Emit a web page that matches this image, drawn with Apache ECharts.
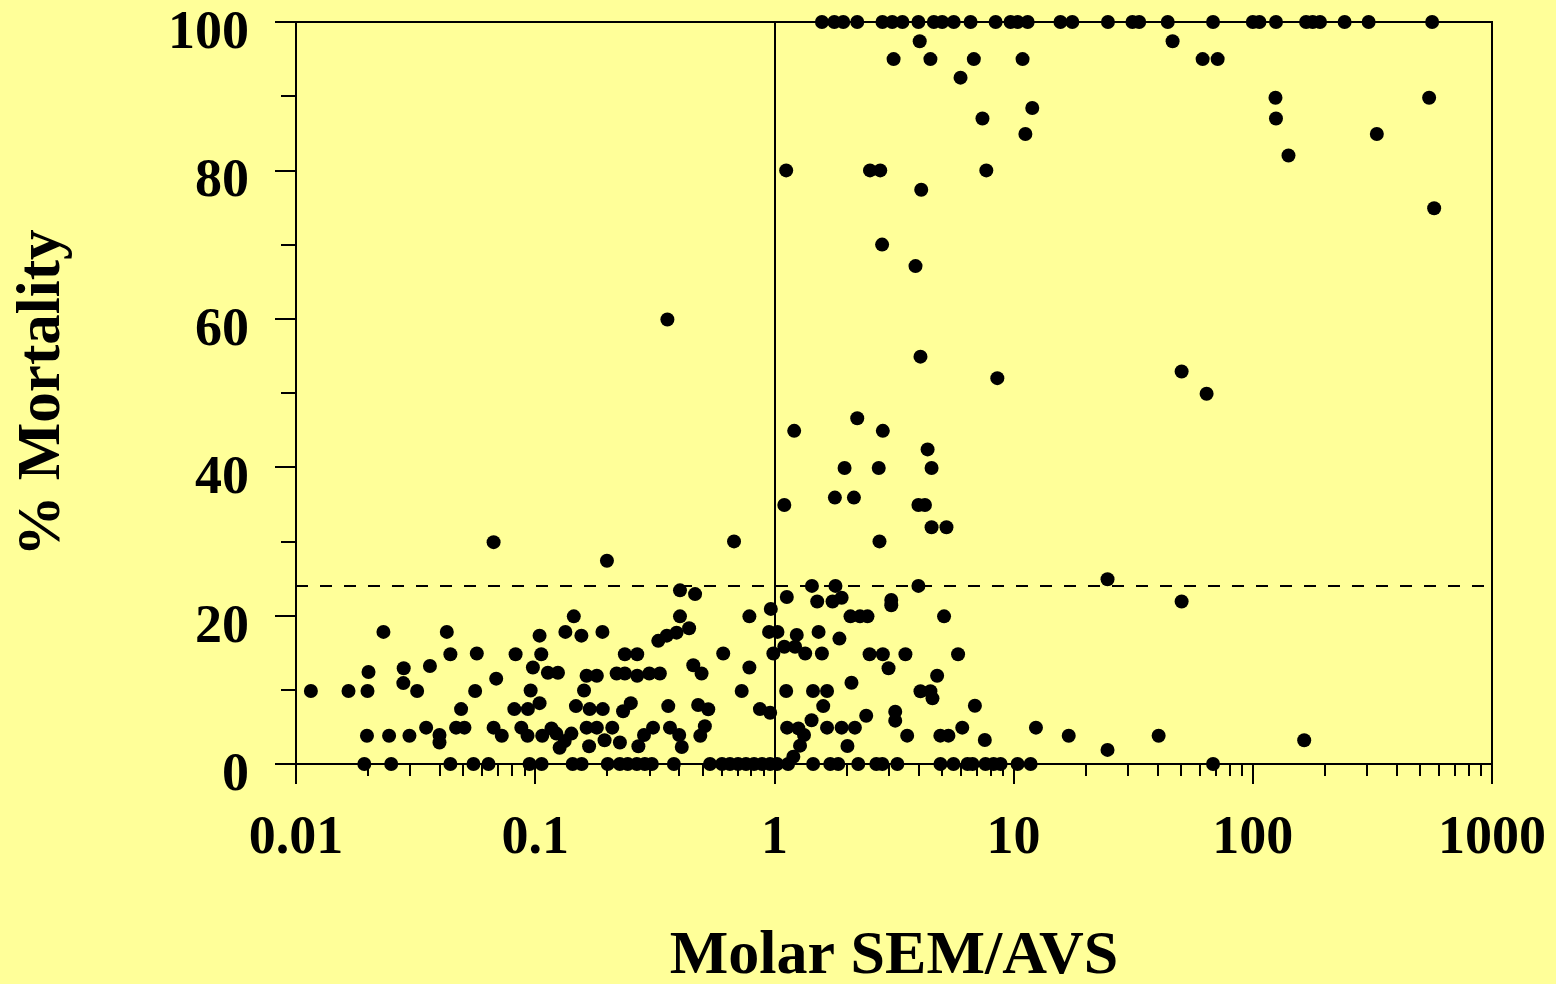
<!DOCTYPE html>
<html>
<head>
<meta charset="utf-8">
<script src="https://cdn.jsdelivr.net/npm/echarts@6/dist/echarts.min.js"></script>
<style>
html, body { margin: 0; padding: 0; background: #ffff99; }
#chart { width: 1556px; height: 984px; }
</style>
</head>
<body>
<div id="chart"></div>
<script>
// tick labels
const xTickLabels = [0.01, 0.1, 1, 10, 100, 1000];
const yTickLabels = [0, 20, 40, 60, 80, 100];

// reference lines
const thresholdRatio = 1;
const thresholdMortality = 24;

// points sitting on 100 % mortality (molar SEM/AVS)
const fullMortalityX = [1.58, 1.78, 1.94, 2.22, 2.83, 3.11, 3.43, 4.0, 4.64, 5.03, 5.62, 6.61, 8.41, 9.71,
    10.4, 11.45, 15.7, 17.6, 24.8, 31.4, 33.5, 44.1, 68.2, 100, 106.6, 125, 167, 178, 191, 242, 305, 562];

// points sitting on 0 % mortality
const zeroMortalityX = [0.0193, 0.025, 0.0442, 0.0552, 0.0638, 0.0947, 0.1064, 0.1434, 0.1564, 0.201, 0.2258,
    0.2438, 0.266, 0.2872, 0.3074, 0.38, 0.538, 0.604, 0.652, 0.705, 0.761, 0.822, 0.888, 0.959, 1.026, 1.141,
    1.452, 1.712, 1.849, 2.242, 2.668, 2.827, 3.266, 4.945, 5.606, 6.418, 6.735, 7.632, 8.246, 8.823, 10.39,
    11.78, 68.2];

// [SEM/AVS, % mortality]
const upperPoints = [[4.05, 97.4], [46.2, 97.4], [3.15, 95], [4.49, 95], [6.82, 95], [10.9, 95], [61.7, 95],
    [71.3, 95], [6.0, 92.5], [124.4, 89.8], [546, 89.8], [11.97, 88.4], [7.41, 87], [125, 87], [11.2, 84.9],
    [330, 84.9], [141, 82], [1.12, 80], [2.51, 80], [2.77, 80], [7.69, 80], [4.11, 77.4], [573, 74.9],
    [2.82, 70], [3.89, 67.1], [0.357, 59.9], [4.08, 54.9], [50.4, 52.9], [8.55, 52], [64.1, 49.9]];

const middlePoints = [[2.22, 46.6], [1.21, 44.9], [2.84, 44.9], [4.37, 42.4], [1.965, 39.9], [2.73, 39.9],
    [4.54, 39.9], [1.79, 35.9], [2.15, 35.9], [1.10, 34.9], [4.0, 34.9], [4.26, 34.9], [4.54, 31.9], [5.24, 31.9],
    [0.067, 29.9], [0.678, 30], [2.75, 30], [0.1995, 27.4], [24.7, 24.9], [1.435, 24], [1.80, 24], [4.0, 24]];

const lowRightPoints = [[0.466, 22.9], [0.403, 23.4], [1.127, 22.5], [1.51, 21.9], [1.75, 21.9], [1.91, 22.4],
    [3.08, 22.1], [3.08, 21.4], [50.4, 21.9], [0.966, 20.9], [0.786, 19.9], [2.08, 19.9], [2.28, 19.9],
    [2.45, 19.9], [5.12, 19.9], [0.95, 17.8], [1.03, 17.8], [1.24, 17.4], [1.53, 17.8], [1.87, 16.9],
    [1.10, 15.8], [1.22, 15.8], [0.611, 14.9], [0.99, 14.9], [1.345, 14.9], [1.58, 14.9], [2.50, 14.8],
    [2.84, 14.8], [3.53, 14.8], [5.86, 14.8], [0.458, 13.3], [0.496, 12.2], [0.786, 13.0], [3.0, 12.9],
    [4.79, 11.9], [2.10, 10.96], [0.730, 9.84], [1.12, 9.84], [1.45, 9.84], [1.66, 9.84], [4.08, 9.8],
    [4.49, 9.8], [4.58, 8.85], [0.48, 7.95], [0.529, 7.37], [0.87, 7.4], [0.96, 6.9], [1.60, 7.8], [6.89, 7.86],
    [3.20, 7.05], [2.42, 6.5], [1.43, 5.9], [3.20, 5.84], [0.512, 5.1], [1.13, 4.9], [1.26, 4.8], [1.66, 4.9],
    [1.91, 4.9], [2.17, 4.9], [6.1, 4.9], [12.4, 4.9], [0.49, 3.8], [1.33, 3.9], [3.59, 3.82], [4.94, 3.82],
    [5.34, 3.82], [17.0, 3.8], [40.4, 3.8], [7.58, 3.23], [164, 3.2], [1.28, 2.47], [2.02, 2.43], [24.7, 1.9],
    [1.20, 0.98]];

const lowLeftPoints = [[0.0232, 17.8], [0.0427, 17.8], [0.0442, 14.8], [0.057, 14.9], [0.0201, 12.4],
    [0.0282, 12.9], [0.0281, 10.9], [0.0363, 13.2], [0.0687, 11.5], [0.01154, 9.84], [0.01658, 9.84],
    [0.0199, 9.84], [0.0321, 9.84], [0.0561, 9.84], [0.049, 7.4], [0.0198, 3.8], [0.0245, 3.8], [0.0298, 3.8],
    [0.035, 4.9], [0.0398, 3.9], [0.0398, 2.9], [0.0467, 4.9], [0.0506, 4.9], [0.067, 4.9], [0.0725, 3.8],
    [0.145, 19.9], [0.403, 19.9], [0.1043, 17.3], [0.1337, 17.8], [0.156, 17.3], [0.191, 17.8], [0.327, 16.6],
    [0.355, 17.3], [0.390, 17.7], [0.44, 18.3], [0.0828, 14.8], [0.106, 14.8], [0.237, 14.8], [0.267, 14.8],
    [0.0978, 13.0], [0.113, 12.3], [0.1245, 12.3], [0.164, 11.9], [0.181, 11.9], [0.219, 12.2], [0.237, 12.2],
    [0.267, 11.9], [0.30, 12.2], [0.332, 12.2], [0.0957, 9.9], [0.160, 9.9], [0.0818, 7.4], [0.0932, 7.4],
    [0.1043, 8.2], [0.148, 7.8], [0.169, 7.4], [0.1916, 7.4], [0.233, 7.1], [0.251, 8.2], [0.36, 7.8],
    [0.0875, 4.9], [0.0929, 3.8], [0.107, 3.8], [0.117, 4.8], [0.1226, 4.1], [0.1328, 3.1], [0.1417, 4.1],
    [0.1265, 2.2], [0.164, 4.9], [0.181, 4.9], [0.168, 2.4], [0.195, 3.2], [0.21, 4.9], [0.226, 2.9],
    [0.285, 3.9], [0.27, 2.4], [0.311, 4.9], [0.366, 4.9], [0.40, 3.9], [0.41, 2.3]];

// minor log ticks 2..9 within each decade
const minorTicks = [];
[0.01, 0.1, 1, 10, 100].forEach(d => {
    for (let m = 2; m <= 9; m++) minorTicks.push(+(d * m).toPrecision(3));
});

const allPoints = []
    .concat(fullMortalityX.map(x => [x, 100]))
    .concat(zeroMortalityX.map(x => [x, 0]))
    .concat(upperPoints, middlePoints, lowRightPoints, lowLeftPoints);

const font = 'Liberation Serif';
const chart = echarts.init(document.getElementById('chart'));
chart.setOption({
    animation: false,
    backgroundColor: '#ffff99',
    grid: {
        left: 296, right: 64, top: 22, bottom: 220,
        show: true, borderColor: '#000', borderWidth: 2,
        outerBoundsMode: 'none'
    },
    xAxis: [
        {
            type: 'log', logBase: 10, min: 0.01, max: 1000, position: 'bottom',
            axisLine: { show: true, lineStyle: { color: '#000', width: 2 } },
            axisTick: { show: true, length: 20, customValues: xTickLabels, lineStyle: { color: '#000', width: 2 } },
            axisLabel: {
                customValues: xTickLabels,
                formatter: v => String(+(+v).toPrecision(3)),
                margin: 48, color: '#000', fontSize: 54, fontFamily: font, fontWeight: 'bold'
            },
            splitLine: { show: false },
            name: 'Molar SEM/AVS', nameLocation: 'middle', nameGap: 162,
            nameTextStyle: { color: '#000', fontSize: 62, fontFamily: font, fontWeight: 'bold' }
        },
        {
            type: 'log', logBase: 10, min: 0.01, max: 1000, position: 'bottom',
            axisLine: { show: false },
            axisTick: { show: true, length: 12, customValues: minorTicks, lineStyle: { color: '#000', width: 2 } },
            axisLabel: { show: false },
            splitLine: { show: false }
        }
    ],
    yAxis: {
        type: 'value', min: 0, max: 100, interval: 20,
        axisLine: { show: true, lineStyle: { color: '#000', width: 2 } },
        axisTick: { show: true, length: 21, lineStyle: { color: '#000', width: 2 } },
        minorTick: { show: true, splitNumber: 2, length: 15, lineStyle: { color: '#000', width: 2 } },
        axisLabel: {
            customValues: yTickLabels,
            margin: 47, verticalAlign: 'top', lineHeight: 24,
            color: '#000', fontSize: 54, fontFamily: font, fontWeight: 'bold'
        },
        splitLine: { show: false },
        name: '% Mortality', nameLocation: 'middle', nameGap: 222,
        nameTextStyle: { color: '#000', fontSize: 61, fontFamily: font, fontWeight: 'bold' }
    },
    series: [{
        type: 'scatter',
        xAxisIndex: 0,
        data: allPoints,
        symbol: 'circle',
        symbolSize: 14,
        itemStyle: { color: '#000', opacity: 1 },
        markLine: {
            silent: true,
            symbol: ['none', 'none'],
            label: { show: false },
            animation: false,
            data: [
                { xAxis: thresholdRatio, lineStyle: { color: '#000', width: 2, type: 'solid' } },
                { yAxis: thresholdMortality, lineStyle: { color: '#000', width: 2, type: [12, 12] } }
            ]
        }
    }]
});
</script>
</body>
</html>
